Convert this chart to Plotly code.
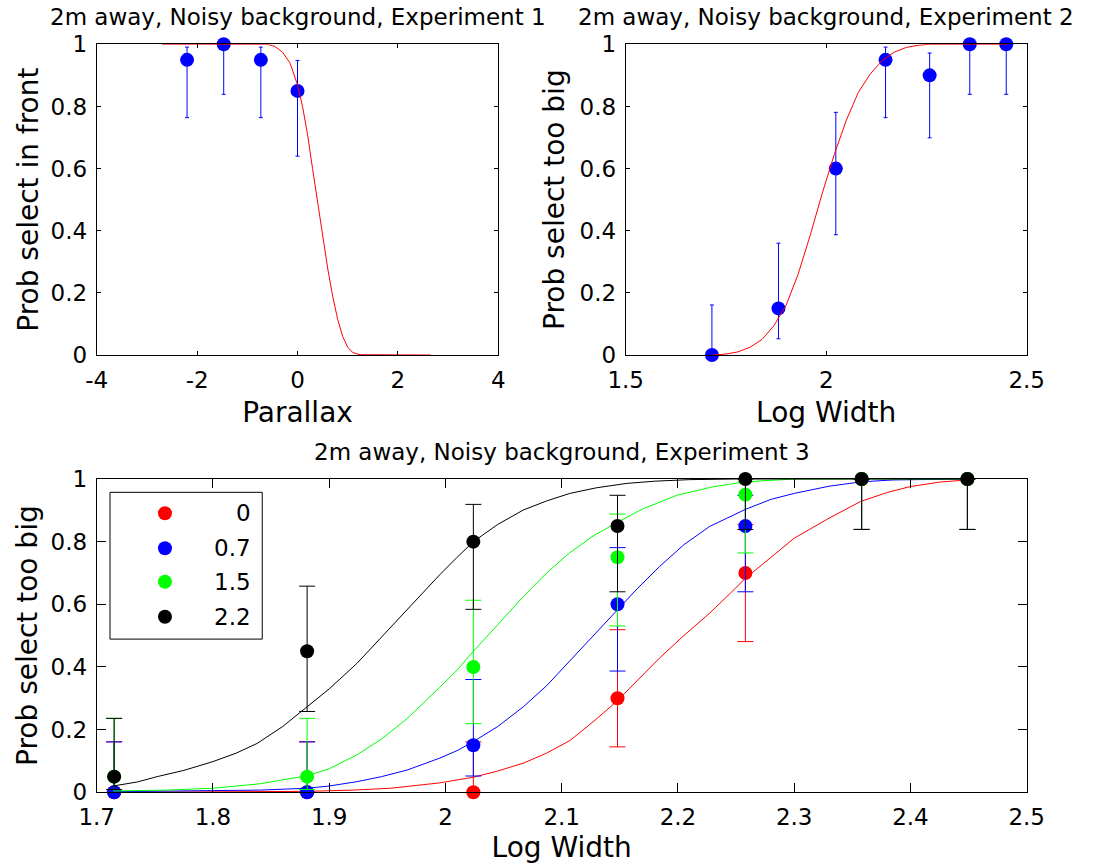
import plotly.graph_objects as go

# ---------------- data ----------------
# Experiment 1 (top-left)
parallax = [-2.2, -1.47, -0.73, 0.0]
p_front = [0.95, 1.0, 0.95, 0.85]
p_front_lo = [0.764, 0.839, 0.764, 0.640]
p_front_hi = [0.991, 1.0, 0.991, 0.948]
fit1_x = [-2.7, -0.6, -0.45, -0.3, -0.15, 0.0, 0.1, 0.2, 0.3, 0.4, 0.5, 0.6, 0.7, 0.8, 0.9, 1.0, 1.1, 1.25, 2.65]
fit1_y = [1.0, 1.0, 0.993, 0.975, 0.94, 0.87, 0.80, 0.71, 0.60, 0.49, 0.38, 0.28, 0.19, 0.115, 0.06, 0.025, 0.008, 0.001, 0.0]

# Experiment 2 (top-right)
log_width = [1.715, 1.881, 2.024, 2.148, 2.258, 2.358, 2.449]
p_big2 = [0.0, 0.15, 0.6, 0.95, 0.9, 1.0, 1.0]
p_big2_lo = [0.0, 0.052, 0.387, 0.764, 0.699, 0.839, 0.839]
p_big2_hi = [0.161, 0.36, 0.781, 0.991, 0.972, 1.0, 1.0]
fit2_x = [1.716, 1.75, 1.78, 1.81, 1.84, 1.87, 1.90, 1.93, 1.96, 1.99, 2.02, 2.05, 2.08, 2.11, 2.14, 2.17, 2.20, 2.23, 2.26, 2.45]
fit2_y = [0.0, 0.003, 0.01, 0.025, 0.05, 0.095, 0.16, 0.26, 0.385, 0.52, 0.645, 0.755, 0.845, 0.905, 0.948, 0.975, 0.99, 0.997, 1.0, 1.0]

# Experiment 3 (bottom), one series per condition
cond_labels = ["0", "0.7", "1.5", "2.2"]
cond_colors = ["#ff0000", "#0000ff", "#00ff00", "#000000"]

p_c0 = [0.0, 0.0, 0.0, 0.30, 0.70, 1.0, 1.0]
p_c0_lo = [0.0, 0.0, 0.0, 0.145, 0.481, 0.839, 0.839]
p_c0_hi = [0.161, 0.161, 0.161, 0.519, 0.855, 1.0, 1.0]

p_c07 = [0.0, 0.0, 0.15, 0.60, 0.85, 1.0, 1.0]
p_c07_lo = [0.0, 0.0, 0.052, 0.387, 0.640, 0.839, 0.839]
p_c07_hi = [0.161, 0.161, 0.36, 0.781, 0.948, 1.0, 1.0]

p_c15 = [0.05, 0.05, 0.40, 0.75, 0.95, 1.0, 1.0]
p_c15_lo = [0.009, 0.009, 0.219, 0.531, 0.764, 0.839, 0.839]
p_c15_hi = [0.236, 0.236, 0.613, 0.888, 0.991, 1.0, 1.0]

p_c22 = [0.05, 0.45, 0.80, 0.85, 1.0, 1.0, 1.0]
p_c22_lo = [0.009, 0.258, 0.584, 0.640, 0.839, 0.839, 0.839]
p_c22_hi = [0.236, 0.658, 0.919, 0.948, 1.0, 1.0, 1.0]

fit_c0_x = [1.714, 1.881, 1.92, 1.953, 1.975, 1.995, 2.024, 2.045, 2.067, 2.087, 2.107, 2.127, 2.147, 2.165,
            2.184, 2.205, 2.227, 2.245, 2.258, 2.28, 2.30, 2.33, 2.357, 2.38, 2.40, 2.425, 2.449]
fit_c0_y = [0.0, 0.003, 0.007, 0.013, 0.022, 0.03, 0.048, 0.068, 0.093, 0.125, 0.165, 0.225, 0.289, 0.355,
            0.428, 0.50, 0.571, 0.635, 0.683, 0.75, 0.811, 0.875, 0.928, 0.957, 0.976, 0.99, 0.997]
fit_c07_x = [1.714, 1.80, 1.84, 1.881, 1.90, 1.924, 1.945, 1.967, 1.98, 1.995, 2.01, 2.024, 2.045, 2.067,
             2.087, 2.107, 2.127, 2.147, 2.165, 2.184, 2.205, 2.227, 2.258, 2.28, 2.30, 2.33, 2.358, 2.385, 2.449]
fit_c07_y = [0.002, 0.004, 0.007, 0.013, 0.02, 0.034, 0.05, 0.071, 0.088, 0.109, 0.133, 0.162, 0.21, 0.273,
             0.34, 0.42, 0.50, 0.577, 0.65, 0.72, 0.79, 0.848, 0.903, 0.935, 0.954, 0.977, 0.991, 0.997, 1.0]
fit_c15_x = [1.714, 1.76, 1.80, 1.84, 1.881, 1.90, 1.924, 1.945, 1.967, 1.98, 1.995, 2.01, 2.024, 2.045,
             2.067, 2.087, 2.107, 2.127, 2.147, 2.17, 2.199, 2.23, 2.258, 2.30, 2.449]
fit_c15_y = [0.004, 0.007, 0.013, 0.027, 0.053, 0.075, 0.12, 0.17, 0.235, 0.28, 0.335, 0.39, 0.45, 0.535,
             0.625, 0.70, 0.765, 0.818, 0.86, 0.905, 0.948, 0.975, 0.991, 1.0, 1.0]
fit_c22_x = [1.714, 1.735, 1.752, 1.775, 1.80, 1.82, 1.838, 1.86, 1.881, 1.90, 1.924, 1.945, 1.967, 1.98,
             1.995, 2.01, 2.024, 2.045, 2.067, 2.087, 2.107, 2.13, 2.156, 2.18, 2.21, 2.25, 2.449]
fit_c22_y = [0.02, 0.033, 0.05, 0.07, 0.098, 0.125, 0.156, 0.21, 0.273, 0.33, 0.412, 0.495, 0.582, 0.635,
             0.694, 0.75, 0.80, 0.855, 0.901, 0.93, 0.954, 0.972, 0.986, 0.993, 0.998, 1.0, 1.0]

y_ticks = [0, 0.2, 0.4, 0.6, 0.8, 1]
y_tick_text = ["0", "0.2", "0.4", "0.6", "0.8", "1"]
x1_ticks = [-4, -2, 0, 2, 4]
x1_tick_text = ["-4", "-2", "0", "2", "4"]
x2_ticks = [1.5, 2, 2.5]
x2_tick_text = ["1.5", "2", "2.5"]
x3_ticks = [1.7, 1.8, 1.9, 2.0, 2.1, 2.2, 2.3, 2.4, 2.5]
x3_tick_text = ["1.7", "1.8", "1.9", "2", "2.1", "2.2", "2.3", "2.4", "2.5"]

titles = ["2m away, Noisy background, Experiment 1",
          "2m away, Noisy background, Experiment 2",
          "2m away, Noisy background, Experiment 3"]

# ---------------- layout helpers ----------------
W, H = 1096, 865
FONT = "DejaVu Sans"
FS = 23


def dx(a, b):
    return [a / W, b / W]


def dy(top, bottom):
    return [1 - bottom / H, 1 - top / H]


def up(v, hi):
    return [h - x for x, h in zip(v, hi)]


def down(v, lo):
    return [x - l for x, l in zip(v, lo)]


fig = go.Figure()

# ---- Experiment 1 ----
fig.add_trace(go.Scatter(
    x=parallax, y=p_front, mode="markers", xaxis="x", yaxis="y",
    marker=dict(color="#0000ff", size=14, line=dict(width=0)),
    error_y=dict(type="data", symmetric=False, array=up(p_front, p_front_hi),
                 arrayminus=down(p_front, p_front_lo), color="#0000ff", thickness=1, width=2),
    cliponaxis=False, showlegend=False))
fig.add_trace(go.Scatter(x=fit1_x, y=fit1_y, mode="lines", xaxis="x", yaxis="y",
                         line=dict(color="#ff0000", width=1), cliponaxis=False, showlegend=False))

# ---- Experiment 2 ----
fig.add_trace(go.Scatter(
    x=log_width, y=p_big2, mode="markers", xaxis="x2", yaxis="y2",
    marker=dict(color="#0000ff", size=14, line=dict(width=0)),
    error_y=dict(type="data", symmetric=False, array=up(p_big2, p_big2_hi),
                 arrayminus=down(p_big2, p_big2_lo), color="#0000ff", thickness=1, width=2),
    cliponaxis=False, showlegend=False))
fig.add_trace(go.Scatter(x=fit2_x, y=fit2_y, mode="lines", xaxis="x2", yaxis="y2",
                         line=dict(color="#ff0000", width=1), cliponaxis=False, showlegend=False))

# ---- Experiment 3 ----
series = [
    (p_c0, p_c0_lo, p_c0_hi, fit_c0_x, fit_c0_y),
    (p_c07, p_c07_lo, p_c07_hi, fit_c07_x, fit_c07_y),
    (p_c15, p_c15_lo, p_c15_hi, fit_c15_x, fit_c15_y),
    (p_c22, p_c22_lo, p_c22_hi, fit_c22_x, fit_c22_y),
]
for (vals, lo, hi, fx, fy), col, lab in zip(series, cond_colors, cond_labels):
    fig.add_trace(go.Scatter(
        x=log_width, y=vals, mode="markers", xaxis="x3", yaxis="y3", name=lab,
        marker=dict(color=col, size=14, line=dict(width=0)),
        error_y=dict(type="data", symmetric=False, array=up(vals, hi),
                     arrayminus=down(vals, lo), color=col, thickness=1, width=8),
        cliponaxis=False, showlegend=False))
    fig.add_trace(go.Scatter(x=fx, y=fy, mode="lines", xaxis="x3", yaxis="y3",
                             line=dict(color=col, width=1), cliponaxis=False, showlegend=False))

# ---------------- axes ----------------
common = dict(showline=True, linecolor="black", linewidth=1, mirror="ticks",
              ticks="inside", tickcolor="black", tickwidth=1, showgrid=False,
              zeroline=False, automargin=False,
              tickfont=dict(family=FONT, size=FS, color="black"))
xcommon = dict(ticklabelstandoff=4, **common)
ycommon = dict(ticklabelstandoff=4, **common)

fig.update_layout(
    width=W, height=H, margin=dict(l=0, r=0, t=0, b=0, autoexpand=False),
    paper_bgcolor="white", plot_bgcolor="white",
    font=dict(family=FONT, size=FS, color="black"),
    xaxis=dict(domain=dx(96.7, 498.3), range=[-4, 4], anchor="y", ticklen=4,
               tickvals=x1_ticks, ticktext=x1_tick_text,
               title=dict(text="Parallax", standoff=10), **xcommon),
    yaxis=dict(domain=dy(44.3, 355), range=[0, 1], anchor="x", ticklen=4,
               tickvals=y_ticks, ticktext=y_tick_text,
               title=dict(text="Prob select in front", standoff=3), **ycommon),
    xaxis2=dict(domain=dx(625.7, 1026.7), range=[1.5, 2.5], anchor="y2", ticklen=4,
                tickvals=x2_ticks, ticktext=x2_tick_text,
                title=dict(text="Log Width", standoff=10), **xcommon),
    yaxis2=dict(domain=dy(44.3, 355), range=[0, 1], anchor="x2", ticklen=4,
                tickvals=y_ticks, ticktext=y_tick_text,
                title=dict(text="Prob select too big", standoff=6), **ycommon),
    xaxis3=dict(domain=dx(96.7, 1026.7), range=[1.7, 2.5], anchor="y3", ticklen=9,
                tickvals=x3_ticks, ticktext=x3_tick_text,
                title=dict(text="Log Width", standoff=8), **xcommon),
    yaxis3=dict(domain=dy(479, 792.3), range=[0, 1], anchor="x3", ticklen=9,
                tickvals=y_ticks, ticktext=y_tick_text,
                title=dict(text="Prob select too big", standoff=4), **ycommon),
)

# ---------------- titles ----------------
title_pos = [((96.7 + 498.3) / 2, 44.3), ((625.7 + 1026.7) / 2, 44.3), ((96.7 + 1026.7) / 2, 479)]
annotations = []
for t, (cx, top) in zip(titles, title_pos):
    annotations.append(dict(text=t, xref="paper", yref="paper", x=cx / W, y=1 - (top - 27) / H,
                            xanchor="center", yanchor="middle", showarrow=False,
                            font=dict(family=FONT, size=FS, color="black")))

# ---------------- custom legend (bottom panel) ----------------
shapes = [dict(type="rect", xref="x3 domain", yref="y3 domain", x0=0.0143, x1=0.178,
               y0=0.489, y1=0.9575, line=dict(color="black", width=1), fillcolor="white", layer="above")]
legend_rows = [0.8905, 0.7788, 0.6722, 0.5605]
for lab, col, ry in zip(cond_labels, cond_colors, legend_rows):
    shapes.append(dict(type="circle", xref="x3 domain", yref="y3 domain",
                       xsizemode="pixel", ysizemode="pixel", xanchor=0.0734, yanchor=ry,
                       x0=-7, x1=7, y0=-7, y1=7, fillcolor=col, line=dict(width=0), layer="above"))
    annotations.append(dict(text=lab, xref="x3 domain", yref="y3 domain", x=0.1677, y=ry,
                            xanchor="right", yanchor="middle", showarrow=False,
                            font=dict(family=FONT, size=FS, color="black")))

fig.update_layout(annotations=annotations, shapes=shapes)
fig.write_html("out.html")
